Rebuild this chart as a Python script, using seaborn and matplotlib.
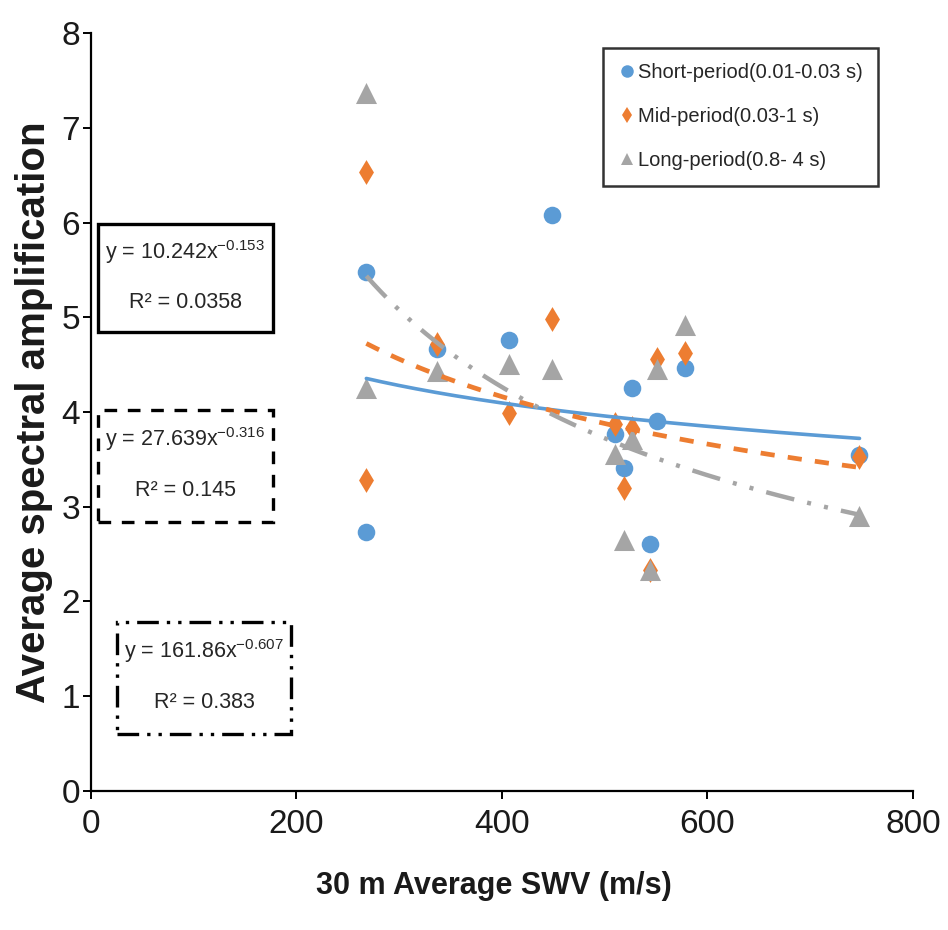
import numpy as np
import pandas as pd
import matplotlib
matplotlib.use('Agg')
import matplotlib.pyplot as plt
from matplotlib.patches import Rectangle
from matplotlib.lines import Line2D
import seaborn as sns

## values
vs30 = [268, 268, 337, 407, 449, 510, 519, 527, 544, 551, 578, 748]
short_amp = [5.48, 2.73, 4.67, 4.76, 6.08, 3.77, 3.41, 4.25, 2.61, 3.90, 4.46, 3.55]
mid_amp = [6.53, 3.28, 4.72, 3.99, 4.98, 3.87, 3.20, 3.83, 2.33, 4.56, 4.62, 3.52]
long_amp = [7.37, 4.25, 4.43, 4.51, 4.45, 3.56, 2.65, 3.71, 2.33, 4.45, 4.92, 2.90]

series_names = ['Short-period(0.01-0.03 s)', 'Mid-period(0.03-1 s)', 'Long-period(0.8- 4 s)']
colors = ['#5B9BD5', '#ED7D31', '#A5A5A5']

## power trendlines printed on the chart: y = a * x^b
fit_a = [10.242, 27.639, 161.86]
fit_b = [-0.153, -0.316, -0.607]
fit_a_txt = ['10.242', '27.639', '161.86']
fit_b_txt = ['-0.153', '-0.316', '-0.607']
fit_r2_txt = ['0.0358', '0.145', '0.383']

x_ticks = [0, 200, 400, 600, 800]
y_ticks = [0, 1, 2, 3, 4, 5, 6, 7, 8]

df = pd.DataFrame({
    'vs30': vs30 * 3,
    'amp': short_amp + mid_amp + long_amp,
    'series': [series_names[0]] * len(vs30) + [series_names[1]] * len(vs30) + [series_names[2]] * len(vs30),
})

sns.set_theme(style='white')
plt.rcParams['font.family'] = ['Liberation Sans', 'DejaVu Sans']
plt.rcParams['mathtext.fontset'] = 'custom'
plt.rcParams['mathtext.rm'] = 'Liberation Sans'

fig = plt.figure(figsize=(9.48, 9.3), dpi=100)
ax = fig.add_axes([0.096, 0.1495, 0.867, 0.815])

markers = ['o', 'd', '^']
sizes = [160, 160, 230]
for name, m, s, c in zip(series_names, markers, sizes, colors):
    sub = df[df['series'] == name]
    sns.scatterplot(data=sub, x='vs30', y='amp', marker=m, s=s, color=c,
                    linewidth=0, ax=ax, zorder=3, legend=False)

## trendlines over the data range
line_styles = [dict(lw=2.6, dashes=None),
               dict(lw=3.4, dashes=(3.0, 2.8)),
               dict(lw=3.2, dashes=(6.5, 3.0, 0.9, 3.0, 0.9, 3.0))]
xx = np.linspace(min(vs30), max(vs30), 200)
for a, b, c, st in zip(fit_a, fit_b, colors, line_styles):
    trend = pd.DataFrame({'x': xx, 'y': a * xx ** b})
    sns.lineplot(data=trend, x='x', y='y', color=c, ax=ax, zorder=4, lw=st['lw'])
    if st['dashes'] is not None:
        ax.lines[-1].set_dashes(st['dashes'])

## equation boxes (data coords)
boxes = [(6.8, 4.84, 170, 1.14, '-'),
         (6.8, 2.84, 170, 1.18, (0, (3.8, 3.2))),
         (25, 0.60, 170, 1.18, (0, (6.5, 2.4, 1, 2.4, 1, 2.4)))]
for (bx, by, bw, bh, ls), a_t, b_t, r_t in zip(boxes, fit_a_txt, fit_b_txt, fit_r2_txt):
    ax.add_patch(Rectangle((bx, by), bw, bh, fill=True, facecolor='white',
                           edgecolor='black', lw=2.4, linestyle=ls, zorder=5, clip_on=False))
    cx = bx + bw / 2
    ax.text(cx, by + bh * 0.74, 'y = ' + a_t + r'x$^{\mathregular{' + b_t + '}}$',
            ha='center', va='center', fontsize=15.5, color='#262626', zorder=6)
    ax.text(cx, by + bh * 0.28, 'R\u00b2 = ' + r_t,
            ha='center', va='center', fontsize=15.5, color='#262626', zorder=6)

ax.set_xlim(0, 800)
ax.set_ylim(0, 8)
ax.set_xticks(x_ticks)
ax.set_yticks(y_ticks)
ax.tick_params(axis='both', which='major', direction='out', length=6, width=1.4,
               color='black', labelsize=24, labelcolor='#1a1a1a', left=True, bottom=True)
ax.tick_params(axis='y', pad=2)
ax.tick_params(axis='x', pad=7)
sns.despine(ax=ax)
for sp in ['left', 'bottom']:
    ax.spines[sp].set_color('black')
    ax.spines[sp].set_linewidth(1.6)

ax.set_xlabel('30 m Average SWV (m/s)', fontsize=22, fontweight='bold', color='#1a1a1a')
ax.set_ylabel('Average spectral amplification', fontsize=29, fontweight='bold', color='#1a1a1a')
ax.xaxis.set_label_coords(0.49, -0.105)
ax.yaxis.set_label_coords(-0.046, 0.5)

## legend built by hand so the marker sizes stay small
handles = [Line2D([], [], marker=m, color=c, linestyle='none', markersize=ms, markeredgewidth=0)
           for m, c, ms in zip(markers, colors, [9, 8, 9])]
leg = ax.legend(handles, series_names, loc='upper left',
                bbox_to_anchor=(603 / 948, 1 - 48 / 930), bbox_transform=fig.transFigure,
                frameon=True, fancybox=False, fontsize=14.5, handlelength=0.9,
                handletextpad=0.1, labelspacing=1.25, borderpad=0.75, borderaxespad=0)
leg.get_frame().set_edgecolor('black')
leg.get_frame().set_linewidth(1.8)
for t in leg.get_texts():
    t.set_color('#262626')

fig.savefig('out.png', dpi=100, facecolor='white')
